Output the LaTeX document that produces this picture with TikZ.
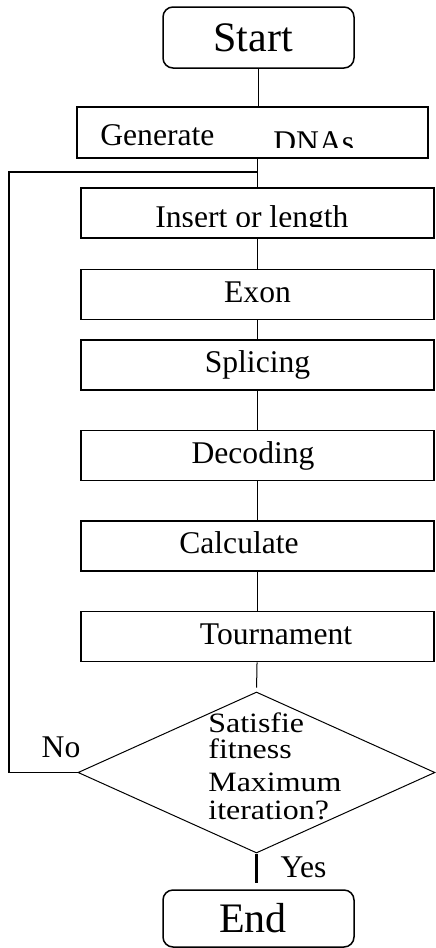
\documentclass[tikz,border=0pt]{standalone}
\usepackage{fontspec}
\setmainfont{Liberation Serif}
\newfontfamily\widefont[FakeStretch=1.14]{Liberation Serif}
\usetikzlibrary{shapes.geometric}

\begin{document}
\begin{tikzpicture}[x=0.5pt,y=-0.5pt,
  stepbox/.style={draw,line width=0.75pt,minimum width=176.5pt,minimum height=25pt,inner sep=0pt,
    font=\fontsize{15.8}{18}\selectfont,text height=1em,text depth=0.25em},
  term/.style={draw,line width=0.75pt,rounded corners=5pt,minimum width=95.5pt,inner sep=0pt,
    font=\fontsize{21}{24}\selectfont},
  decision/.style={draw,diamond,line width=0.5pt,minimum width=178.5pt,minimum height=80.5pt,inner sep=0pt},
  txt/.style={inner sep=0pt,font=\fontsize{15.8}{18}\selectfont},
  link/.style={line width=0.5pt}]

\useasboundingbox (0,0) rectangle (435,948);

\node[term,minimum height=30.5pt] (start) at (258.5,37.5) {Start\hspace*{5.5pt}};

\node[stepbox,minimum width=175.5pt,minimum height=25.5pt] (gen) at (252.5,132.5) {};
\node[txt,anchor=base west] (gentxt) at (100,145) {Generate};
\begin{scope}
\clip (gen.north west) rectangle (428,147);
\node[txt,anchor=base west] (dnatxt) at (273,152.7) {DNAs};
\end{scope}

\node[stepbox] (ins) at (257.5,213) {};
\begin{scope}
\clip (ins.north west) rectangle (434,226.5);
\node[txt,anchor=base west] (instxt) at (155,227) {Insert or length};
\end{scope}

\node[stepbox] (exon) at (257.5,294.5) {Exon};
\node[stepbox] (splice) at (257.5,365) {Splicing};
\node[stepbox] (decode) at (257.5,455.5) {Decoding\hspace*{4.5pt}};
\node[stepbox] (calc) at (257.5,546) {Calculate\hspace*{18.5pt}};
\node[stepbox] (tour) at (257.5,636.5) {\hspace*{18.5pt}Tournament};

\node[decision] (dec) at (256.5,772.5) {};
\node[txt,anchor=north west,align=left,font=\widefont\fontsize{14}{12}\selectfont] (dectxt) at (208,712)
  {Satisfie\\[1pt]fitness\\[4.5pt]Maximum\\[2pt]iteration?};

\node[term,minimum height=28.5pt] (stop) at (258.5,918.5) {End\hspace*{5.5pt}};

\node[txt] (no) at (61,747) {No};
\node[txt] (yes) at (303.5,867.5) {Yes};

% main line
\draw[link] (start.south) -- (start.south |- gen.north);
\draw[link] (ins.north |- gen.south) -- (ins.north);
\draw[link] (ins) -- (exon);
\draw[link] (exon) -- (splice);
\draw[link] (splice) -- (decode);
\draw[link] (decode) -- (calc);
\draw[link] (calc) -- (tour);
\draw[link,shorten >=2pt] (tour) -- (dec.north);

% loop back
\coordinate (fbjoin) at (257,172);
\coordinate (fbleft) at (9,172);
\draw[line width=0.75pt] (dec.west) -| (fbleft) -- (fbjoin);

\coordinate (yesend) at (256.5,883);
\draw[line width=1.3pt] (dec.south) -- (yesend);

\end{tikzpicture}
\end{document}
